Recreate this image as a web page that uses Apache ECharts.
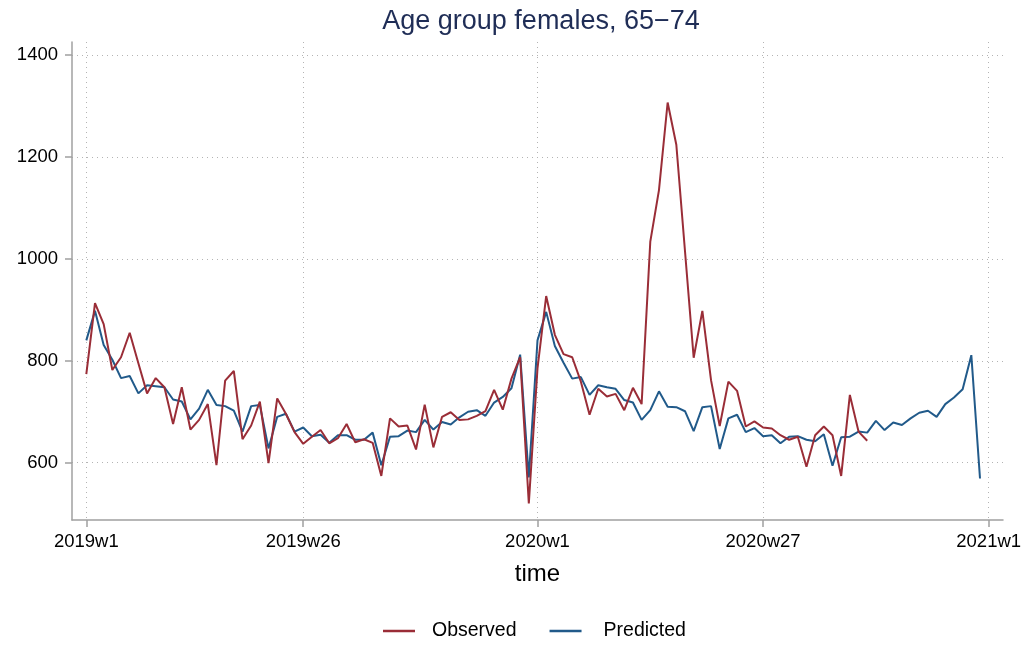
<!DOCTYPE html>
<html>
<head>
<meta charset="utf-8">
<script src="https://cdn.jsdelivr.net/npm/echarts@6/dist/echarts.min.js"></script>
<style>
  html, body { margin: 0; padding: 0; background: #fff; }
  #chart { width: 1031px; height: 646px; }
</style>
</head>
<body>
<div id="chart"></div>
<script>
// Week index 0 = 2019w1 ... 104 = 2021w1 (52 weeks per year)
const xTickWeeks = [0, 25, 52, 78, 104];
const xTickLabels = ['2019w1', '2019w26', '2020w1', '2020w27', '2021w1'];
const yTicks = [600, 800, 1000, 1200, 1400];

const observed = [
  774, 913, 872, 782, 807, 855, 795, 736, 766, 748,
  676, 748, 665, 684, 715, 595, 761, 780, 646, 673,
  720, 599, 726, 696, 660, 637, 651, 664, 638, 648,
  676, 640, 646, 639, 574, 687, 671, 673, 626, 714,
  630, 690, 699, 684, 685, 692, 701, 743, 704, 765,
  807, 520, 785, 927, 851, 813, 807, 759, 694, 745,
  730, 735, 703, 747, 715, 1034, 1135, 1307, 1224, 1015,
  806, 898, 762, 672, 759, 741, 671, 681, 669, 667,
  654, 645, 651, 592, 654, 671, 654, 574, 733, 661,
  643
];

const predicted = [
  840, 898, 831, 802, 766, 770, 736, 752, 750, 748,
  724, 720, 685, 706, 743, 713, 711, 702, 661, 711,
  713, 628, 690, 696, 661, 669, 652, 655, 639, 654,
  654, 645, 645, 659, 595, 651, 652, 663, 660, 684,
  665, 680, 675, 689, 700, 703, 692, 718, 729, 746,
  812, 571, 840, 896, 829, 796, 765, 768, 733, 752,
  748, 745, 723, 718, 684, 703, 740, 710, 709, 701,
  662, 709, 711, 627, 687, 694, 660, 668, 652, 654,
  638, 651, 652, 645, 642, 656, 594, 650, 651, 661,
  659, 682, 664, 679, 674, 687, 698, 702, 690, 715,
  728, 744, 811, 569
];

const colObs = '#9a2d37';
const colPred = '#215a8a';
const font = '"Liberation Sans", Arial, Helvetica, sans-serif';

const chart = echarts.init(document.getElementById('chart'), null, { renderer: 'canvas' });
const gridStyle = { color: '#b4b4b4', width: 1, type: [1, 4] };

chart.setOption({
  animation: false,
  backgroundColor: '#ffffff',
  title: {
    text: 'Age group females, 65\u221274',
    left: 536, top: 3, textAlign: 'center',
    textStyle: { fontFamily: font, fontSize: 27, fontWeight: 'normal', color: '#1f2d56' }
  },
  legend: {
    bottom: 5, left: 383, padding: 0,
    icon: 'rect', itemWidth: 32, itemHeight: 2.5, itemGap: 33,
    textStyle: { fontFamily: font, fontSize: 19.5, color: '#000' },
    data: [
      { name: 'Observed', textStyle: { padding: [0, 0, 0, 12] } },
      { name: 'Predicted', textStyle: { padding: [0, 0, 0, 17] } }
    ]
  },
  grid: { left: 72, right: 28, top: 42, bottom: 126, containLabel: false },
  xAxis: {
    type: 'value', min: -1.65, max: 105.65,
    name: 'time', nameLocation: 'middle', nameGap: 42,
    nameTextStyle: { fontFamily: font, fontSize: 24, color: '#000' },
    axisLine: { show: true, onZero: false, lineStyle: { color: '#a0a0a0', width: 1.5 } },
    axisTick: { show: true, customValues: xTickWeeks, length: 7, lineStyle: { color: '#a0a0a0', width: 1.5 } },
    axisLabel: {
      customValues: xTickWeeks, margin: 12,
      fontFamily: font, fontSize: 18.5, color: '#000',
      formatter: function (v) { const k = xTickWeeks.indexOf(Math.round(v)); return k >= 0 ? xTickLabels[k] : ''; }
    },
    splitLine: { show: true, customValues: xTickWeeks, lineStyle: gridStyle }
  },
  yAxis: {
    type: 'value', min: 487.5, max: 1425.7,
    axisLine: { show: true, onZero: false, lineStyle: { color: '#a0a0a0', width: 1.5 } },
    axisTick: { show: true, customValues: yTicks, length: 7, lineStyle: { color: '#a0a0a0', width: 1.5 } },
    axisLabel: {
      customValues: yTicks, margin: 14,
      fontFamily: font, fontSize: 18.5, color: '#000',
      formatter: function (v) { return String(v); }
    },
    splitLine: { show: true, customValues: yTicks, lineStyle: gridStyle }
  },
  series: [
    {
      name: 'Observed', type: 'line', symbol: 'none', showSymbol: false,
      color: colObs, lineStyle: { color: colObs, width: 2 }, z: 3,
      data: observed.map((v, i) => [i, v])
    },
    {
      name: 'Predicted', type: 'line', symbol: 'none', showSymbol: false,
      color: colPred, lineStyle: { color: colPred, width: 2 }, z: 2,
      data: predicted.map((v, i) => [i, v])
    }
  ]
});
</script>
</body>
</html>
